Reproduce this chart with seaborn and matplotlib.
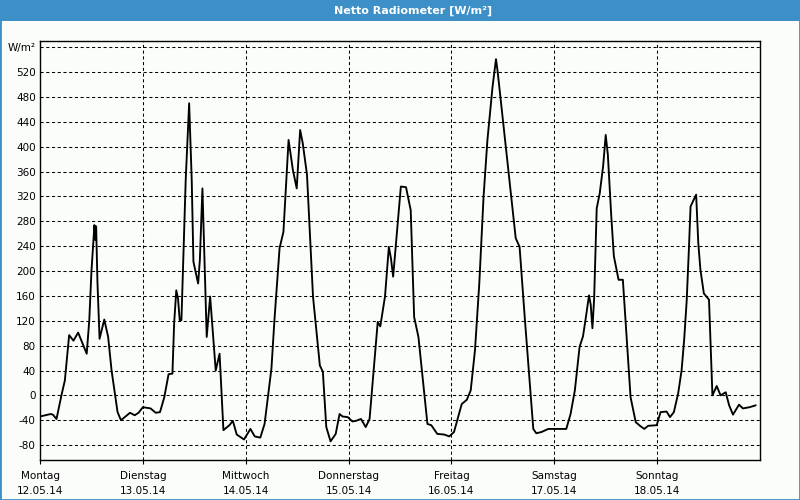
import matplotlib
matplotlib.use("Agg")
import matplotlib.pyplot as plt
from matplotlib.patches import Rectangle
import seaborn as sns
import numpy as np
import pandas as pd

# ---- data (time in hours since Monday 00:00, net radiation in W/m²) ----
hours = [0, 2.5, 3.0, 3.85, 5.0, 5.8, 6.8, 7.8, 8.9, 10.9, 11.5, 12.0, 12.7, 12.9, 13.1,
         13.4, 13.9, 15.0, 15.9, 16.7, 18.1, 18.9, 21.0, 22.1, 23.0, 24.0, 25.8, 27.0,
         28.0, 29.0, 30.0, 30.9, 31.3, 31.8, 32.2, 32.6, 33.0, 34.0, 34.8, 35.4,
         35.8, 36.9, 37.3, 37.9, 38.9, 39.7, 41.0, 41.9, 42.8, 44.2, 45.0, 45.9, 47.6,
         49.1, 50.1, 51.4, 52.4, 54.0, 54.7, 55.9, 56.8, 58.0, 59.0, 59.9, 60.7, 61.3,
         62.3, 63.7, 65.3, 66.0, 66.8, 67.8, 69.0, 69.9, 70.6, 71.8, 72.9, 73.7, 74.9,
         76.0, 76.9, 78.8, 79.4, 80.5, 81.4, 81.9, 82.4, 83.0, 84.2, 85.4, 86.5, 87.3,
         88.3, 90.4, 91.3, 92.7, 94.3, 95.5, 96.6, 98.4, 99.6, 100.5, 101.5, 102.5,
         103.5, 104.4, 105.6, 106.4, 106.8, 107.9, 111.0, 111.9, 113.1, 115.1, 115.8,
         117.0, 118.6, 121.3, 122.8, 123.8, 124.8, 125.9, 126.7, 127.4, 128.1, 128.5,
         128.9, 129.3, 129.9, 130.6, 131.4, 132.0, 132.5, 133.3, 133.9, 135.0, 136.0,
         137.8, 139.0, 140.0, 141.0, 141.9, 143.9, 144.8, 146.2, 147.0, 147.9, 148.9,
         149.7, 150.3, 150.9, 151.4, 151.8, 153.1, 153.6, 154.1, 154.9, 156.1, 156.9,
         157.9, 158.8, 160.0, 160.8, 161.7, 163.1, 164.0, 165.6, 167.0]
values = [-34, -30, -31, -38, 0, 24, 97, 88, 101, 67, 121, 199, 274, 250, 272,
          183, 91, 122, 94, 40, -27, -40, -28, -32, -28, -19, -21, -28,
          -27, -3, 34, 35, 116, 169, 156, 121, 121, 347, 470, 347,
          215, 180, 218, 333, 94, 159, 40, 67, -56, -48, -41, -63, -71,
          -54, -66, -68, -46, 43, 121, 237, 263, 411, 363, 333, 427, 406,
          355, 159, 48, 38, -51, -74, -62, -30, -34, -35, -42, -41, -38,
          -51, -38, 118, 111, 159, 239, 220, 191, 239, 336, 335, 298, 126,
          94, -46, -48, -62, -63, -66, -59, -14, -7, 8, 73, 180,
          320, 411, 497, 541, 520, 450, 253, 239, 126, -54, -61,
          -59, -54, -54, -54, -30, 8, 78, 95, 127, 161, 146,
          108, 156, 301, 325, 369, 419, 387, 288, 224, 186, 186,
          -3, -43, -49, -54, -49, -48, -27, -26, -35, -27, 3,
          40, 89, 153, 234, 304, 323, 245, 202, 164, 154, 0,
          15, 0, 5, -16, -31, -15, -21, -19, -16]
day_names = ["Montag", "Dienstag", "Mittwoch", "Donnerstag", "Freitag", "Samstag", "Sonntag"]
dates = ["12.05.14", "13.05.14", "14.05.14", "15.05.14", "16.05.14", "17.05.14", "18.05.14"]
y_ticks = [-80, -40, 0, 40, 80, 120, 160, 200, 240, 280, 320, 360, 400, 440, 480, 520, 560]
unit_label = "W/m²"
title = "Netto Radiometer [W/m²]"

df = pd.DataFrame({"day": np.array(hours) / 24.0, "value": values})

sns.set_style("white")
plt.rcParams["font.family"] = ["DejaVu Sans"]

BLUE = "#3d8fc7"
BG = "#fbfdfb"

fig = plt.figure(figsize=(8, 5), dpi=100, facecolor=BG)
ax = fig.add_axes([40 / 800, 40 / 500, 720 / 800, 419.5 / 500])
ax.set_facecolor(BG)

# grid
grid_kw = dict(color="black", lw=0.75, linestyle=(0, (3, 2.5)), zorder=1)
for yv in y_ticks:
    ax.axhline(yv, **grid_kw)
for d in range(1, 7):
    ax.axvline(d, **grid_kw)

sns.lineplot(data=df, x="day", y="value", ax=ax, color="black", lw=1.35,
             estimator=None, sort=False, zorder=3)

ax.set_xlim(0, 7)
ax.set_ylim(-104, 571)
ax.set_xticks(range(7))
ax.set_xticklabels([f"{n}\n{d}" for n, d in zip(day_names, dates)],
                   fontsize=7.5, linespacing=1.55)
ax.set_yticks(y_ticks)
ax.set_yticklabels([str(v) for v in y_ticks[:-1]] + [unit_label], fontsize=7.5)
ax.tick_params(axis="x", direction="out", length=3, width=0.8, pad=5, colors="black",
               bottom=True)
ax.tick_params(axis="y", length=0, pad=3, colors="black", left=True)
ax.set_xlabel("")
ax.set_ylabel("")
for s in ax.spines.values():
    s.set_visible(True)
    s.set_color("black")
    s.set_linewidth(1.0)

# title bar and frame
fig.patches.append(Rectangle((0, 1 - 21 / 500), 1, 21 / 500, transform=fig.transFigure,
                             facecolor=BLUE, edgecolor="none", zorder=0))
fig.patches.append(Rectangle((0, 0), 1, 1, transform=fig.transFigure, fill=False,
                             edgecolor=BLUE, lw=2.0, zorder=5))
fig.text(413 / 800, 1 - 10.5 / 500, title, color="white", fontweight="bold",
         ha="center", va="center", fontsize=8)

fig.savefig("out.png", dpi=100, facecolor=BG)
